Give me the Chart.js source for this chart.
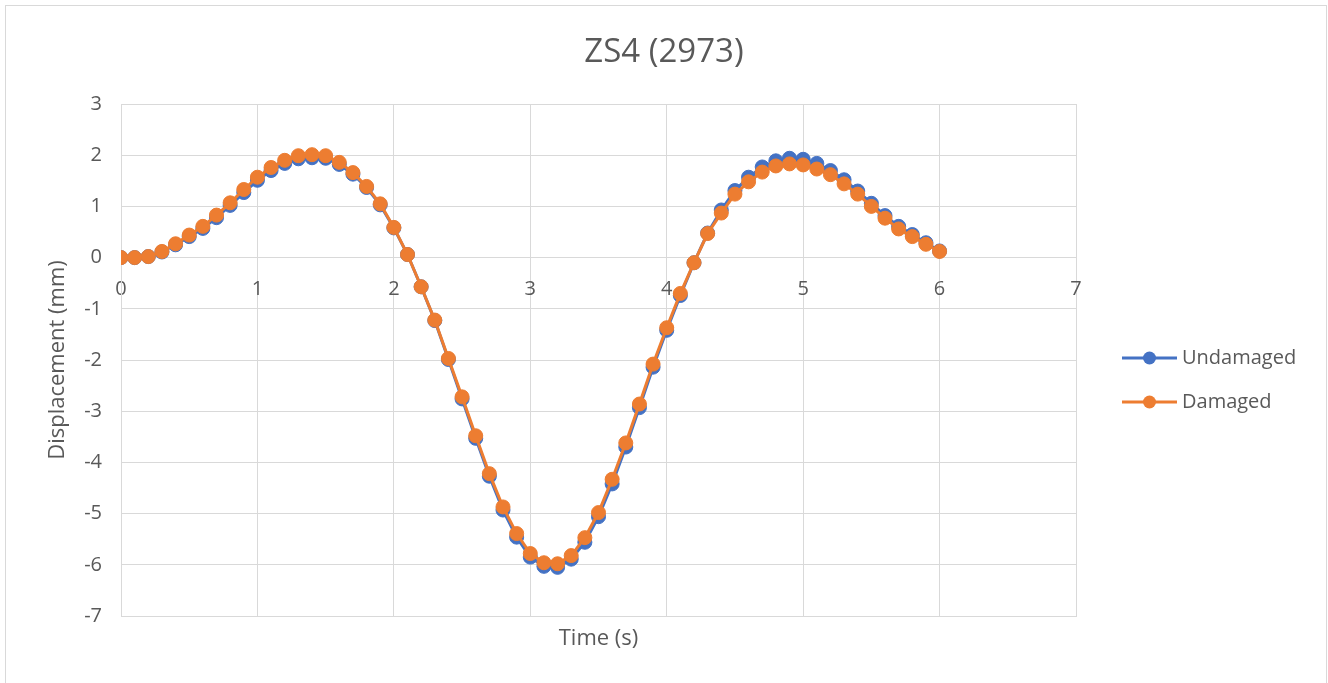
<!DOCTYPE html>
<html>
<head>
<meta charset="utf-8">
<title>ZS4 (2973)</title>
<script src="https://cdn.jsdelivr.net/npm/chart.js@4/dist/chart.umd.min.js"></script>
<style>
  html, body { margin: 0; padding: 0; background: #ffffff; }
  #wrap { position: relative; width: 1328px; height: 683px; overflow: hidden; }
  canvas { display: block; }
</style>
</head>
<body>
<div id="wrap"><canvas id="chart" width="1328" height="683"></canvas></div>
<script>
// Sample times (s)
const time = [
  0.0, 0.1, 0.2, 0.3, 0.4, 0.5, 0.6, 0.7, 0.8, 0.9,
  1.0, 1.1, 1.2, 1.3, 1.4, 1.5, 1.6, 1.7, 1.8, 1.9,
  2.0, 2.1, 2.2, 2.3, 2.4, 2.5, 2.6, 2.7, 2.8, 2.9,
  3.0, 3.1, 3.2, 3.3, 3.4, 3.5, 3.6, 3.7, 3.8, 3.9,
  4.0, 4.1, 4.2, 4.3, 4.4, 4.5, 4.6, 4.7, 4.8, 4.9,
  5.0, 5.1, 5.2, 5.3, 5.4, 5.5, 5.6, 5.7, 5.8, 5.9,
  6.0
];

// Displacement (mm), undamaged structure
const undamaged = [
  0.00, 0.00, 0.02, 0.11, 0.25, 0.41, 0.57, 0.78, 1.02, 1.27,
  1.51, 1.70, 1.84, 1.93, 1.95, 1.94, 1.82, 1.63, 1.37, 1.03,
  0.58, 0.06, -0.57, -1.23, -1.99, -2.76, -3.53, -4.27, -4.93, -5.46,
  -5.85, -6.03, -6.05, -5.89, -5.56, -5.06, -4.42, -3.70, -2.93, -2.14,
  -1.42, -0.74, -0.10, 0.48, 0.93, 1.31, 1.57, 1.77, 1.89, 1.94,
  1.92, 1.84, 1.70, 1.52, 1.30, 1.06, 0.82, 0.61, 0.45, 0.29,
  0.13
];

// Displacement (mm), damaged structure
const damaged = [
  0.00, 0.00, 0.02, 0.12, 0.27, 0.44, 0.61, 0.83, 1.07, 1.33,
  1.57, 1.76, 1.90, 1.99, 2.01, 1.99, 1.86, 1.66, 1.39, 1.05,
  0.59, 0.06, -0.57, -1.22, -1.97, -2.72, -3.48, -4.22, -4.87, -5.39,
  -5.78, -5.96, -5.98, -5.82, -5.47, -4.98, -4.33, -3.62, -2.86, -2.08,
  -1.37, -0.70, -0.10, 0.47, 0.87, 1.24, 1.48, 1.67, 1.79, 1.83,
  1.81, 1.73, 1.62, 1.44, 1.24, 1.00, 0.77, 0.56, 0.41, 0.26,
  0.12
];

const seriesNames = ['Undamaged', 'Damaged'];
const seriesColors = ['#4472C4', '#ED7D31'];

const xRange = [0, 7];
const yRange = [-7, 3];

const TEXT = '#595959';
const GRID = '#D9D9D9';
const FONT = "'Open Sans', 'Noto Sans', 'DejaVu Sans', sans-serif";

function toPoints(values) {
  return time.map((t, i) => ({ x: t, y: values[i] }));
}

// Outer frame of the chart
const framePlugin = {
  id: 'frame',
  beforeDraw(chart) {
    const ctx = chart.ctx;
    ctx.save();
    ctx.fillStyle = '#ffffff';
    ctx.fillRect(0, 0, chart.width, chart.height);
    ctx.strokeStyle = GRID;
    ctx.lineWidth = 1;
    ctx.strokeRect(5.5, 5.5, 1321, 700);
    ctx.restore();
  }
};

// Legend on the right: line segment with a marker, then the series name
const sideLegend = {
  id: 'sideLegend',
  afterDraw(chart) {
    const ctx = chart.ctx;
    const x0 = 1122, x1 = 1177, textX = 1182;
    const rows = [358, 402];
    ctx.save();
    chart.data.datasets.forEach((ds, i) => {
      const y = rows[i];
      ctx.strokeStyle = ds.borderColor;
      ctx.lineWidth = 3;
      ctx.beginPath();
      ctx.moveTo(x0, y);
      ctx.lineTo(x1, y);
      ctx.stroke();
      ctx.fillStyle = ds.backgroundColor;
      ctx.beginPath();
      ctx.arc((x0 + x1) / 2, y, 6.5, 0, Math.PI * 2);
      ctx.fill();
      ctx.fillStyle = TEXT;
      ctx.font = '20px ' + FONT;
      ctx.textAlign = 'left';
      ctx.textBaseline = 'middle';
      ctx.fillText(ds.label, textX, y);
    });
    ctx.restore();
  }
};

const makeDataset = (i, values, order) => ({
  label: seriesNames[i],
  data: toPoints(values),
  borderColor: seriesColors[i],
  backgroundColor: seriesColors[i],
  pointBackgroundColor: seriesColors[i],
  pointBorderColor: seriesColors[i],
  borderWidth: 3,
  pointRadius: 7,
  pointBorderWidth: 1,
  pointHoverRadius: 7,
  tension: 0,
  order: order
});

new Chart(document.getElementById('chart'), {
  type: 'line',
  data: {
    datasets: [
      makeDataset(0, undamaged, 2),
      makeDataset(1, damaged, 1)
    ]
  },
  options: {
    responsive: false,
    devicePixelRatio: 1,
    animation: false,
    layout: { padding: 0 },
    plugins: {
      legend: { display: false },
      tooltip: { enabled: false },
      title: {
        display: true,
        text: 'ZS4 (2973)',
        color: TEXT,
        font: { family: FONT, size: 33, weight: 'normal' },
        padding: { top: 32.7, bottom: 31.7 }
      }
    },
    scales: {
      x: {
        type: 'linear',
        position: 'bottom',
        min: xRange[0],
        max: xRange[1],
        ticks: { display: false, stepSize: 1 },
        grid: { color: GRID, lineWidth: 1, drawTicks: false },
        border: { color: GRID, width: 1 },
        title: {
          display: true,
          text: 'Time (s)',
          color: TEXT,
          font: { family: FONT, size: 22, weight: 'normal' },
          padding: { top: 10, bottom: 30.8 }
        },
        afterFit(scale) { scale.height = 67; }
      },
      xLabels: {
        type: 'linear',
        axis: 'x',
        position: { y: 0 },
        min: xRange[0],
        max: xRange[1],
        ticks: {
          stepSize: 1,
          color: TEXT,
          padding: 20,
          font: { family: FONT, size: 20 }
        },
        grid: { display: false, drawTicks: false },
        border: { display: false },
        afterFit(scale) { scale.height = 0; }
      },
      y: {
        type: 'linear',
        position: 'left',
        min: yRange[0],
        max: yRange[1],
        ticks: {
          stepSize: 1,
          color: TEXT,
          padding: 19,
          font: { family: FONT, size: 20 }
        },
        grid: { color: GRID, lineWidth: 1, drawTicks: false },
        border: { color: GRID, width: 1 },
        title: {
          display: true,
          text: 'Displacement (mm)',
          color: TEXT,
          font: { family: FONT, size: 22, weight: 'normal' },
          padding: { top: 45, bottom: 0 }
        },
        afterFit(scale) { scale.width = 121; }
      },
      // Empty right-hand strip that holds the legend
      legendSpace: {
        type: 'linear',
        axis: 'y',
        position: 'right',
        min: yRange[0],
        max: yRange[1],
        ticks: { display: false },
        grid: { display: false, drawTicks: false },
        border: { display: false },
        afterFit(scale) { scale.width = 252; }
      }
    }
  },
  plugins: [framePlugin, sideLegend]
});
</script>
</body>
</html>
